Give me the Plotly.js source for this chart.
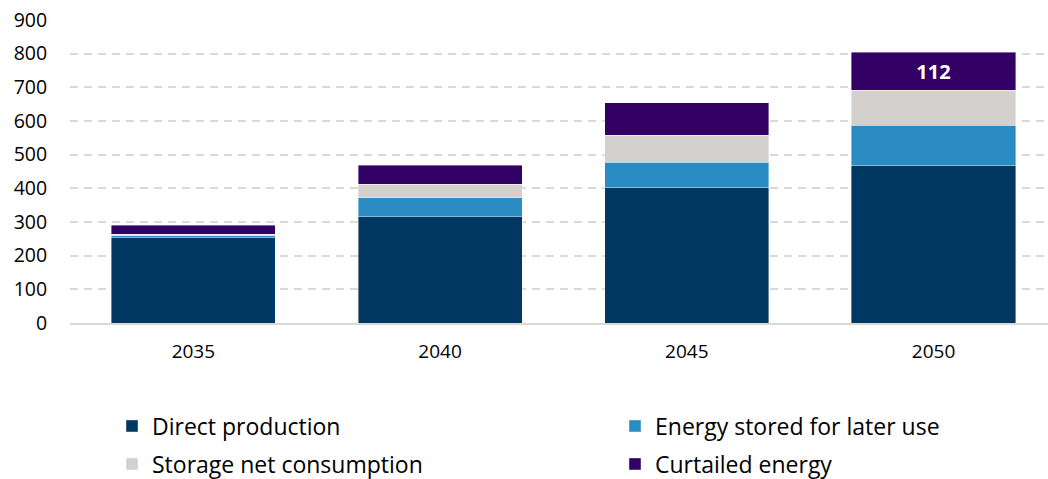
<!DOCTYPE html>
<html>
<head>
<meta charset="utf-8">
<script src="https://cdn.plot.ly/plotly-3.0.1.min.js"></script>
<style>html,body{margin:0;padding:0;background:#fff;}#chart{width:1048px;height:479px;}</style>
</head>
<body>
<div id="chart"></div>
<script>
const years = ['2035', '2040', '2045', '2050'];
const directProduction = [253, 316, 402, 467];
const energyStored = [6, 56, 76, 121];
const storageNetConsumption = [4, 40, 80, 104];
const curtailedEnergy = [27, 57, 96, 112];
const seriesNames = ['Direct production', 'Energy stored for later use', 'Storage net consumption', 'Curtailed energy'];
const seriesColors = ['#003862', '#2A8CC2', '#D3D0CD', '#330066'];
const labelledYears = ['2050'];

const values = [directProduction, energyStored, storageNetConsumption, curtailedEnergy];
const legendIds = ['legend', 'legend2', 'legend3', 'legend4'];

const traces = values.map((v, i) => ({
  type: 'bar',
  x: years,
  y: v,
  name: seriesNames[i],
  legend: legendIds[i],
  marker: {color: seriesColors[i], line: {color: 'rgba(255,255,255,0.5)', width: 0.8}},
  hoverinfo: 'skip'
}));

// data label on curtailed energy for labelled years
traces[3].text = years.map((yr, i) => labelledYears.includes(yr) ? String(curtailedEnergy[i]) : '');
traces[3].textposition = 'inside';
traces[3].insidetextanchor = 'middle';
traces[3].textfont = {family: '"Open Sans", sans-serif', size: 20, color: '#ffffff', weight: 'bold'};

const FONT = '"Open Sans", sans-serif';
function legendAt(px, py) {
  return {
    orientation: 'h',
    xref: 'container', yref: 'container',
    x: px / 1048, xanchor: 'left',
    y: (479 - py) / 479, yanchor: 'middle',
    font: {family: FONT, size: 23, color: '#000000'},
    bgcolor: 'rgba(0,0,0,0)',
    borderwidth: 0
  };
}

const layout = {
  width: 1048, height: 479,
  margin: {l: 70, r: 0, t: 20, b: 156},
  paper_bgcolor: '#ffffff', plot_bgcolor: '#ffffff',
  barmode: 'stack',
  bargap: 0.335,
  showlegend: true,
  legend: legendAt(112, 426),
  legend2: legendAt(615, 426),
  legend3: legendAt(112, 464),
  legend4: legendAt(615, 464),
  xaxis: {
    type: 'category',
    range: [-0.5, 3.464],
    showgrid: false,
    showline: true, linecolor: '#D9D9D9', linewidth: 2,
    ticks: 'outside', ticklen: 10, tickcolor: 'rgba(0,0,0,0)',
    tickfont: {family: FONT, size: 19, color: '#000000'},
    zeroline: false
  },
  yaxis: {
    range: [0, 900],
    dtick: 100,
    showgrid: true, gridcolor: '#D9D9D9', gridwidth: 2, griddash: '8px,6px',
    zeroline: false,
    showline: false,
    ticks: 'outside', ticklen: 18, tickcolor: 'rgba(0,0,0,0)',
    tickfont: {family: FONT, size: 19.5, color: '#000000'}
  }
};

Plotly.newPlot('chart', traces, layout, {displayModeBar: false, staticPlot: true});
</script>
</body>
</html>
